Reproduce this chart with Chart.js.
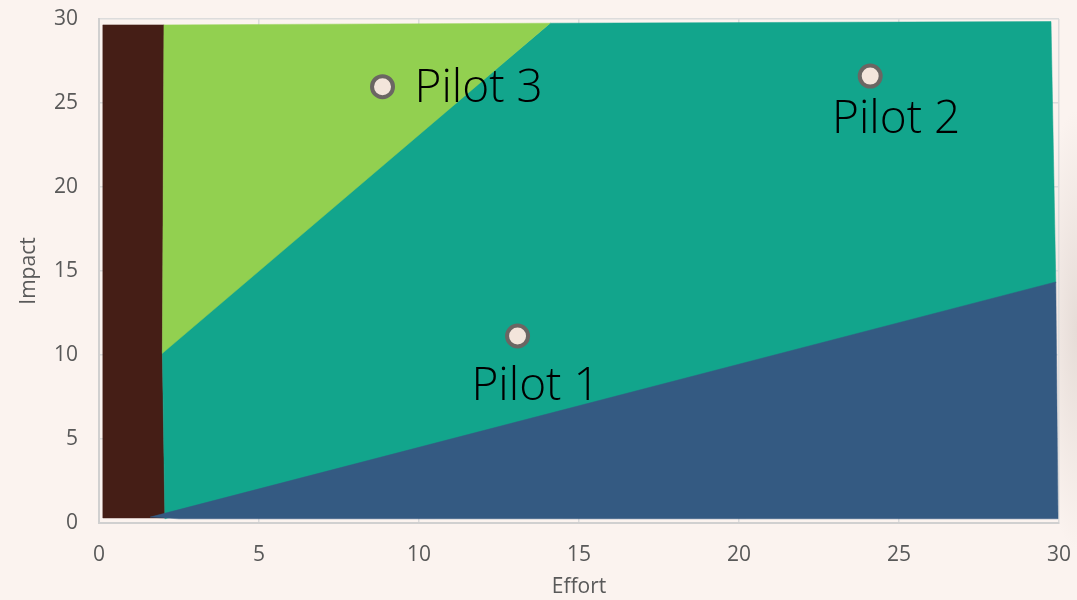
<!DOCTYPE html>
<html>
<head>
<meta charset="utf-8">
<script src="https://cdn.jsdelivr.net/npm/chart.js@4.4.1/dist/chart.umd.min.js"></script>
<style>
  html, body { margin: 0; padding: 0; }
  body {
    width: 1077px; height: 600px; overflow: hidden;
    background: radial-gradient(ellipse 40px 220px at 1077px 330px, #e6dcd7 0%, rgba(251,243,239,0) 100%),
                #fbf3ef;
  }
  #wrap { position: relative; width: 1077px; height: 600px; }
</style>
</head>
<body>
<div id="wrap"><canvas id="chart" width="1077" height="600"></canvas></div>
<script>
// zones (polygon corners, effort / impact)
const brownZone = [[0.12, 0.3], [0.12, 29.65], [2.03, 29.65], [1.98, 10], [2.06, 0.3], [0.12, 0.3]];
const tealZone = [[2.06, 0.25], [1.98, 10.3], [14.1, 29.75], [29.75, 29.85], [29.9, 14.3], [2.06, 0.25]];
const greenZone = [[1.98, 10.1], [2.03, 29.65], [14.1, 29.75], [1.98, 10.1]];
const blueZone = [[1.6, 0.35], [29.9, 14.35], [29.97, 0.25], [2.5, 0.25], [1.6, 0.35]];

const pilotNames = ["Pilot 1", "Pilot 2", "Pilot 3"];
const pilotEffort = [13.08, 24.1, 8.86];
const pilotImpact = [11.13, 26.6, 25.97];

// label offsets from the marker, in pixels
const labelDx = [18, 26, 32];
const labelDy = [51, 44, 2];
const labelAlign = ["center", "center", "left"];

const xTicks = [0, 5, 10, 15, 20, 25, 30];
const yTicks = [0, 5, 10, 15, 20, 25, 30];

const toPts = arr => arr.map(p => ({ x: p[0], y: p[1] }));

function zone(pts, color, order) {
    return {
        data: toPts(pts),
        showLine: true,
        fill: "shape",
        backgroundColor: color,
        borderColor: color,
        borderWidth: 0.5,
        pointRadius: 0,
        tension: 0,
        order: order
    };
}

const pilotLabels = {
    id: "pilotLabels",
    afterDatasetsDraw(chart) {
        const { ctx, scales } = chart;
        ctx.save();
        ctx.font = "300 46px 'Open Sans'";
        ctx.fillStyle = "#000";
        ctx.textBaseline = "middle";
        pilotNames.forEach((name, i) => {
            const px = scales.x.getPixelForValue(pilotEffort[i]);
            const py = scales.y.getPixelForValue(pilotImpact[i]);
            ctx.textAlign = labelAlign[i];
            ctx.fillText(name, px + labelDx[i], py + labelDy[i]);
        });
        ctx.restore();
    }
};

const tickFont = { family: "'Open Sans'", size: 21 };

new Chart(document.getElementById("chart"), {
    type: "scatter",
    data: {
        datasets: [
            zone(brownZone, "#451e16", 5),
            zone(tealZone, "#12a58c", 4),
            zone(greenZone, "#92d050", 3),
            zone(blueZone, "#345a82", 2),
            {
                data: pilotEffort.map((x, i) => ({ x: x, y: pilotImpact[i] })),
                backgroundColor: "#f3e5db",
                borderColor: "#6b6663",
                borderWidth: 4,
                pointRadius: 10.5,
                order: 0
            }
        ]
    },
    options: {
        responsive: false,
        animation: false,
        devicePixelRatio: 1,
        layout: { padding: { top: 19, right: 18, left: 0, bottom: 0 } },
        plugins: { legend: { display: false }, tooltip: { enabled: false } },
        scales: {
            x: {
                type: "linear",
                min: 0, max: 30,
                afterBuildTicks: s => { s.ticks = xTicks.map(v => ({ value: v })); },
                afterFit: s => { s.height = 77; s.paddingLeft = 0; s.paddingRight = 0; },
                grid: { color: "#dcdcdc", lineWidth: 1.5, drawTicks: false },
                border: { color: "#d0d0d0", width: 2 },
                ticks: { color: "#595959", font: tickFont, padding: 19 },
                title: { display: true, text: "Effort", color: "#595959", font: tickFont, padding: { top: 4, bottom: 0 } }
            },
            y: {
                type: "linear",
                min: 0, max: 30,
                afterBuildTicks: s => { s.ticks = yTicks.map(v => ({ value: v })); },
                afterFit: s => { s.width = 99; s.paddingTop = 0; s.paddingBottom = 0; },
                grid: { color: "#dcdcdc", lineWidth: 1.5, drawTicks: false },
                border: { color: "#d0d0d0", width: 2 },
                ticks: { color: "#595959", font: tickFont, padding: 21 },
                title: { display: true, text: "Impact", color: "#595959", font: tickFont, padding: { top: 16, bottom: 0 } }
            }
        }
    },
    plugins: [pilotLabels]
});
</script>
</body>
</html>
